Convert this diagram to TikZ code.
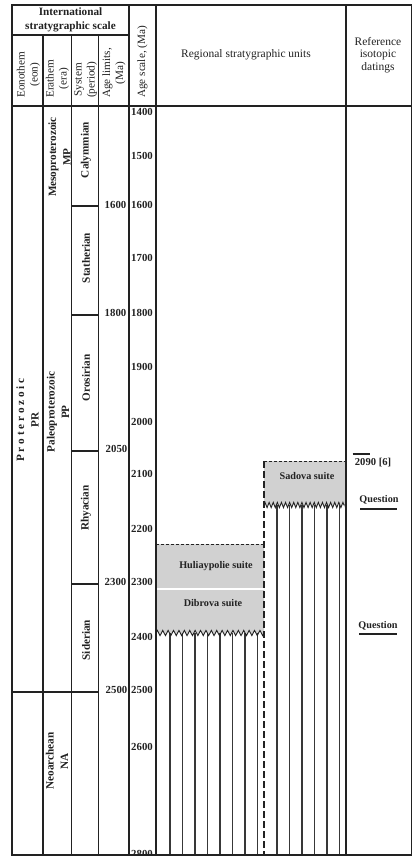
\documentclass[tikz,border=0pt]{standalone}
\usepackage{fontspec}
\setmainfont{Liberation Serif}
\usetikzlibrary{decorations.pathmorphing}
\definecolor{ink}{HTML}{222222}
\definecolor{suitegray}{HTML}{D1D1D1}
\begin{document}
\begin{tikzpicture}[x=1pt,y=-1pt,
  frame/.style={line width=1.25pt, draw=ink},
  thick frame/.style={line width=1.7pt, draw=ink},
  hatch/.style={line width=1.35pt, draw=ink!90},
  hdr/.style={font=\fontsize{11.2}{13}\selectfont, align=center, inner sep=0pt, text=ink},
  rothdr/.style={hdr, rotate=90, anchor=west},
  bodyrot/.style={font=\fontsize{11.2}{14.5}\selectfont\bfseries, align=center, inner sep=0pt, rotate=90, text=ink},
  age/.style={font=\fontsize{10.8}{12}\selectfont\bfseries, inner sep=0pt, text=ink},
  unit/.style={font=\fontsize{10.2}{12}\selectfont\bfseries, inner sep=0pt, text=ink},
  mark line/.style={line width=1.8pt, draw=ink}
]
\useasboundingbox (0,0) rectangle (413,856);

% ---- grey suites ----
\path[fill=suitegray, decoration={zigzag,segment length=4.1pt,amplitude=2.6pt}]
  (264,461) -- (345.7,461) -- (345.7,505) decorate {-- (264,505)} -- cycle;
\path[fill=suitegray, decoration={zigzag,segment length=5.4pt,amplitude=2.6pt}]
  (156,544) -- (264,544) -- (264,633) decorate {-- (156,633)} -- cycle;
\draw[white, line width=1.2pt] (156,589) -- (264,589);

% ---- hatching below suites ----
\foreach \x in {170,182.5,195,207.5,220,232.5,245,257.5}
  \draw[hatch] (\x,633) -- (\x,855);
\foreach \x in {277,289.5,302,314.5,327,339.5}
  \draw[hatch] (\x,505) -- (\x,855);

% zigzag edges
\draw[ink, line width=0.9pt, decorate, decoration={zigzag,segment length=4.1pt,amplitude=2.6pt}] (264,505) -- (345.7,505);
\draw[ink, line width=0.9pt, decorate, decoration={zigzag,segment length=5.4pt,amplitude=2.6pt}] (156,633) -- (264,633);

% dashed boundaries
\draw[ink, line width=0.9pt, dash pattern=on 3pt off 2pt] (156,544) -- (264,544);
\draw[ink, line width=0.9pt, dash pattern=on 3pt off 2pt] (264,461) -- (345.7,461);
\draw[ink, line width=1.4pt, dash pattern=on 7pt off 3pt] (264,461) -- (264,855);

% ---- table frame ----
\draw[frame] (12,5) rectangle (411.5,855);
\draw[frame] (12,35) -- (129,35);
\draw[frame] (12,106) -- (411.5,106);
\draw[thick frame] (43,35) -- (43,855);
\draw[frame] (71.5,35) -- (71.5,855);
\draw[frame] (98.5,35) -- (98.5,855);
\draw[frame] (129,5) -- (129,855);
\draw[frame] (156,5) -- (156,855);
\draw[thick frame] (345.7,5) -- (345.7,855);
% period boundaries
\foreach \y in {206,315,451,584}
  \draw[frame] (71.5,\y) -- (98.5,\y);
\draw[frame] (12,692) -- (98.5,692);

% ---- header texts ----
\node[hdr, font=\fontsize{11.2}{14}\selectfont\bfseries] (intl) at (70.5,20) {International\\stratygraphic scale};
\node[rothdr] (eon) at (28.5,98) {Eonothem\\(eon)};
\node[rothdr] (era) at (57.5,98) {Erathem\\(era)};
\node[rothdr] (sys) at (85.5,98) {System\\(period)};
\node[rothdr] (lim) at (114,98) {Age limits,\\(Ma)};
\node[rothdr] (scl) at (142.5,98) {Age scale, (Ma)};
\node[hdr, font=\fontsize{11.5}{13}\selectfont] (reg) at (246,55) {Regional stratygraphic units};
\node[hdr, font=\fontsize{11.5}{12.8}\selectfont] (ref) at (378,55) {Reference\\isotopic\\datings};

% ---- body rotated texts ----
\node[bodyrot] (pr) at (27.5,420) {P r o t e r o z o i c\\PR};
\node[bodyrot] (na) at (57,761) {Neoarchean\\NA};
\node[bodyrot] (mp) at (59.5,157) {Mesoproterozoic\\MP};
\node[bodyrot] (pp) at (58,412) {Paleoproterozoic\\PP};
\node[bodyrot] (caly) at (86,150) {Calymmian};
\node[bodyrot] (stat) at (86,258) {Statherian};
\node[bodyrot] (oros) at (86,378) {Orosirian};
\node[bodyrot] (rhya) at (86,508) {Rhyacian};
\node[bodyrot] (side) at (86,640) {Siderian};

% ---- age limits ----
\node[age, anchor=east] (l1600) at (126.5,205) {1600};
\node[age, anchor=east] (l1800) at (126.5,313) {1800};
\node[age, anchor=east] (l2050) at (127.5,449) {2050};
\node[age, anchor=east] (l2300) at (126.5,582) {2300};
\node[age, anchor=east] (l2500) at (127.5,690) {2500};

% ---- age scale ----
\foreach \a/\y in {1400/112,1500/156,1600/205,1700/258,1800/313,1900/367,2000/422,2100/474,2200/529,2300/582,2400/637,2500/690,2600/747,2800/854}
  \node[age, anchor=west] (s\a) at (131,\y) {\a};

% ---- suites ----
\node[unit] (sadova) at (307,476) {Sadova suite};
\node[unit] (huli) at (216,566) {Huliaypolie suite};
\node[unit] (dibr) at (213,603) {Dibrova suite};

% ---- reference datings ----
\node[unit, font=\fontsize{10.6}{12}\selectfont\bfseries] (d2090) at (373,463) {2090 [6]};
\draw[mark line] (352.7,454) -- (370,454);
\node[unit] (q1) at (379,500) {Question};
\draw[mark line] (360,509) -- (397,509);
\node[unit] (q2) at (378,626) {Question};
\draw[mark line] (359,634) -- (397,634);
\end{tikzpicture}
\end{document}
